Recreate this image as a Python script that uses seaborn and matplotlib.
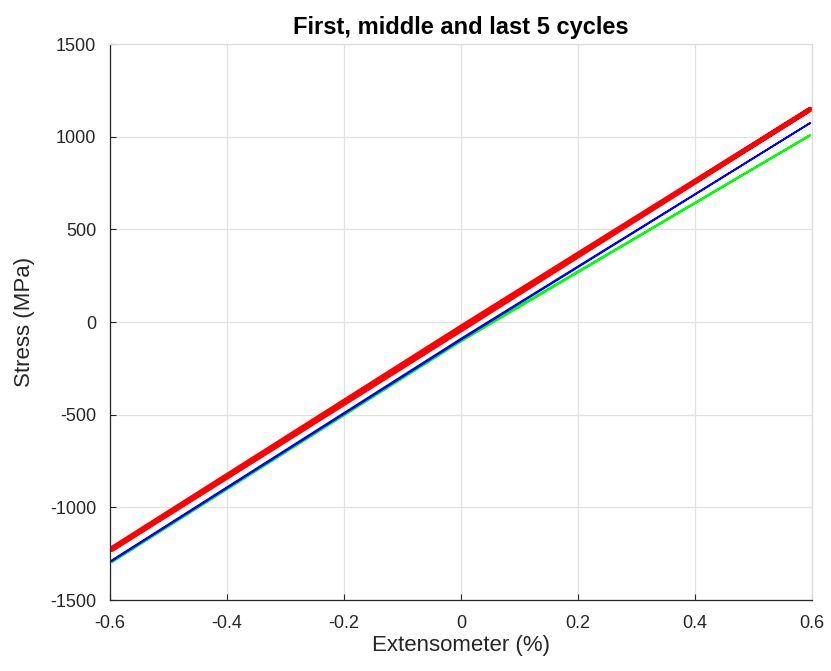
import matplotlib
matplotlib.use("Agg")
import matplotlib.pyplot as plt
import numpy as np
import pandas as pd
import seaborn as sns

# Stress-strain loops for the three cycle blocks (strain %, stress MPa).
# Each loop: loading branch from min to max strain, unloading back.
strain_loop = [-0.597, 0.0, 0.597, 0.0, -0.597]

first_stress = [-1228, -42, 1148, -28, -1222]     # first 5 cycles
middle_stress = [-1290, -96, 1074, -90, -1286]    # middle 5 cycles
last_stress = [-1296, -104, 1008, -98, -1292]     # last 5 cycles

series_names = ["First", "Middle", "Last"]
series_colors = {"First": "#ff0000", "Middle": "#0000ff", "Last": "#00ff00"}
series_widths = {"First": 3.6, "Middle": 1.3, "Last": 1.6}

x_ticks = [-0.6, -0.4, -0.2, 0, 0.2, 0.4, 0.6]
y_ticks = [-1500, -1000, -500, 0, 500, 1000, 1500]

frames = []
for name, stress in zip(series_names, [first_stress, middle_stress, last_stress]):
    frames.append(pd.DataFrame({"strain": strain_loop, "stress": stress,
                                "block": name, "order": range(len(stress))}))
df = pd.concat(frames, ignore_index=True)

sns.set_theme(style="white")
plt.rcParams["font.family"] = ["Liberation Sans", "DejaVu Sans"]

fig = plt.figure(figsize=(8.31, 6.71), dpi=100)
ax = fig.add_axes([0.1324, 0.1058, 0.8447, 0.8286])

for name in ["Last", "Middle", "First"]:
    sub = df[df["block"] == name]
    sns.lineplot(data=sub, x="strain", y="stress", sort=False, estimator=None,
                 color=series_colors[name], linewidth=series_widths[name], ax=ax,
                 legend=False)

ax.set_xlim(-0.6, 0.6)
ax.set_ylim(-1500, 1500)
ax.set_xticks(x_ticks)
ax.set_yticks(y_ticks)
ax.set_xticklabels([f"{t:g}" for t in x_ticks])
ax.set_yticklabels([f"{t:g}" for t in y_ticks])
ax.grid(True, color="#e2e2e2", linewidth=0.9)
ax.set_axisbelow(True)
for side in ["top", "right"]:
    ax.spines[side].set_color("#dcdcdc")
for side in ["left", "bottom"]:
    ax.spines[side].set_color("#262626")
for sp in ax.spines.values():
    sp.set_linewidth(0.9)
ax.tick_params(direction="in", length=4, colors="#262626", labelsize=13,
               width=0.8, top=False, right=False, bottom=True, left=True)
ax.tick_params(axis="x", pad=11)
ax.tick_params(axis="y", pad=10)

ax.set_xlabel("Extensometer (%)", fontsize=16, color="#262626", labelpad=2)
ax.set_ylabel("Stress (MPa)", fontsize=16, color="#262626", labelpad=11)
ax.set_title("First, middle and last 5 cycles", fontsize=17, fontweight="bold",
             color="black", pad=7)

fig.savefig("out.png", dpi=100, facecolor="white")
